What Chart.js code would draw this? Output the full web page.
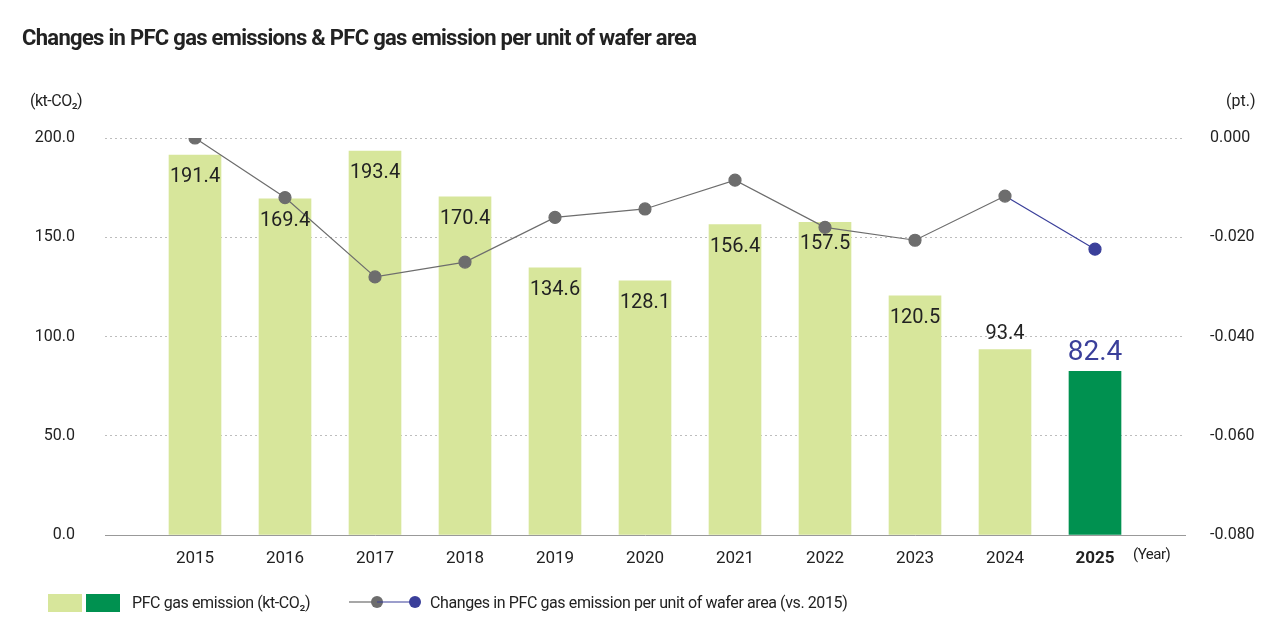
<!DOCTYPE html>
<html><head><meta charset="utf-8">
<script src="https://cdn.jsdelivr.net/npm/chart.js@4"></script>
<style>
html,body{margin:0;padding:0;background:#fff;width:1280px;height:640px;overflow:hidden;font-family:"Liberation Sans Narrow","Roboto",sans-serif;}
#wrap{position:absolute;left:0;top:0;width:1280px;height:640px;}
.t{position:absolute;color:#222;white-space:nowrap;}
</style></head><body>
<div id="wrap"><canvas id="c" width="1280" height="640"></canvas></div>
<div class="t" style="left:22px;top:25px;font-size:22px;letter-spacing:-0.7px;font-weight:bold;">Changes in PFC gas emissions &amp; PFC gas emission per unit of wafer area</div>
<div class="t" style="left:30px;top:91px;font-size:16px;letter-spacing:-0.5px;">(kt-CO₂)</div>
<div class="t" style="left:1226px;top:91px;font-size:16px;">(pt.)</div>
<div class="t" style="left:1133px;top:545px;font-size:15px;letter-spacing:-0.5px;">(Year)</div>
<div class="t" style="left:48px;top:592px;">
<span style="display:inline-block;width:34px;height:18px;background:#d7e69b;vertical-align:middle"></span><span style="display:inline-block;width:34px;height:18px;background:#009150;margin-left:4px;vertical-align:middle"></span>
<span style="font-size:16px;letter-spacing:-0.4px;vertical-align:middle;margin-left:8px">PFC gas emission (kt-CO₂)</span></div>
<svg style="position:absolute;left:345px;top:590px" width="80" height="24"><line x1="4" y1="12" x2="32" y2="12" stroke="#6d6d6d" stroke-width="1.2"/><circle cx="32" cy="12" r="6" fill="#6d6d6d"/><line x1="32" y1="12" x2="68" y2="12" stroke="#3a3f9a" stroke-width="1.2"/><circle cx="70" cy="12" r="6" fill="#3a3f9a"/></svg>
<div class="t" style="left:430px;top:593px;font-size:16px;letter-spacing:-0.4px;">Changes in PFC gas emission per unit of wafer area (vs. 2015)</div>
<script>
const categories=['','2015','2016','2017','2018','2019','2020','2021','2022','2023','2024','2025',''];
const emission=[null,191.4,169.4,193.4,170.4,134.6,128.1,156.4,157.5,120.5,93.4,82.4,null];
const perUnit=[null,0.000,-0.012,-0.028,-0.025,-0.016,-0.0143,-0.0085,-0.018,-0.0206,-0.0117,-0.0224,null];
const LIGHT='#d7e69b',DARK='#009150',GRAY='#6d6d6d',BLUE='#3a3f9a';
const FONT="'Liberation Sans Narrow', Roboto, sans-serif";
const labelPlugin={id:'lbl',afterDatasetsDraw(ch){
 const ctx=ch.ctx;const meta=ch.getDatasetMeta(1);
 ctx.save();ctx.textAlign='center';ctx.textBaseline='middle';
 meta.data.forEach((b,i)=>{const v=emission[i];if(v==null)return;
  if(i===11){ctx.font='28px '+FONT;ctx.fillStyle=BLUE;ctx.fillText(v.toFixed(1),b.x,b.y-18);}
  else if(i===10){ctx.font='20px '+FONT;ctx.fillStyle='#222';ctx.fillText(v.toFixed(1),b.x,b.y-16);}
  else{ctx.font='20px '+FONT;ctx.fillStyle='#222';ctx.fillText(v.toFixed(1),b.x,b.y+22);}
 });ctx.restore();}};
new Chart(document.getElementById('c'),{
 data:{labels:categories,datasets:[
  {type:'line',data:perUnit,yAxisID:'y2',borderColor:GRAY,borderWidth:1.2,pointRadius:6,pointHoverRadius:6,
   pointBackgroundColor:perUnit.map((v,i)=>i===11?BLUE:GRAY),pointBorderColor:perUnit.map((v,i)=>i===11?BLUE:GRAY),
   segment:{borderColor:c=>c.p1DataIndex===11?BLUE:GRAY},order:0},
  {type:'bar',data:emission,yAxisID:'y',backgroundColor:emission.map((v,i)=>i===11?DARK:LIGHT),barThickness:52,order:1}
 ]},
 options:{responsive:false,animation:false,events:[],
  layout:{padding:{left:0,right:0,top:138,bottom:65}},
  plugins:{legend:{display:false},tooltip:{enabled:false}},
  scales:{
   x:{offset:false,grid:{display:false},border:{display:true,color:'#999'},
      ticks:{color:'#222',padding:6,maxRotation:0,autoSkip:false,font:c=>({family:FONT,size:17,weight:c.index===11?'bold':'normal'})},
      afterFit:s=>{s.height=40;}},
   y:{position:'left',min:0,max:200,grid:{color:c=>c.tick.value===0?'rgba(0,0,0,0)':'#bdbdbd',drawTicks:false},border:{display:false,dash:[2,3]},
      ticks:{stepSize:50,padding:30,color:'#222',font:{family:FONT,size:16},callback:v=>v.toFixed(1)},afterFit:s=>{s.width=105;}},
   y2:{position:'right',min:-0.08,max:0,grid:{display:false,drawTicks:false},border:{display:false},
      ticks:{stepSize:0.02,padding:25,color:'#222',font:{family:FONT,size:16},callback:v=>(Math.abs(v)<1e-9?0:v).toFixed(3)},afterFit:s=>{s.width=95;}}
  }},
 plugins:[labelPlugin]
});
</script></body></html>
